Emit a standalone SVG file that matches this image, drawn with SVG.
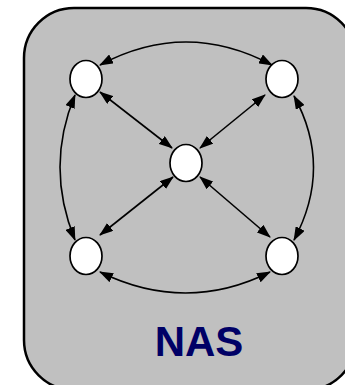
<svg xmlns="http://www.w3.org/2000/svg" width="345" height="385" viewBox="0 0 345 385">
<style>
.node{fill:#ffffff;stroke:#000000;stroke-width:1.7}
.conn{fill:none;stroke:#000000;stroke-width:1.6;marker-start:url(#ah);marker-end:url(#ah)}
.label{font-family:"Liberation Sans",Arial,sans-serif;font-weight:bold;font-size:42px;fill:#000066}
</style>
<defs>
<marker id="ah" viewBox="0 0 14 10" refX="13" refY="5" markerWidth="14" markerHeight="10" markerUnits="userSpaceOnUse" orient="auto-start-reverse">
<path d="M0,0 L14,5 L0,10 z" fill="#000000"/>
</marker>
</defs>
<rect id="frame" x="24" y="8" width="332" height="382" rx="50" ry="50" fill="#c0c0c0" stroke="#000000" stroke-width="2.5"/>
<g id="connectors">
<path class="conn" d="M100,65 Q186,19 272,65"/>
<path class="conn" d="M100,272 Q186,314 270,272"/>
<path class="conn" d="M75,95 Q45,167 75,240"/>
<path class="conn" d="M294,96 Q333,167 294,240"/>
<path class="conn" d="M100,92 L172,148"/>
<path class="conn" d="M265,95 L200,148"/>
<path class="conn" d="M100,235 L173,177"/>
<path class="conn" d="M270,237 L200,177"/>
</g>
<g id="n-tl"><ellipse class="node" cx="86" cy="79" rx="16" ry="18.5"/></g>
<g id="n-tr"><ellipse class="node" cx="282" cy="79" rx="16" ry="18.5"/></g>
<g id="n-c"><ellipse class="node" cx="186" cy="163" rx="16" ry="18.5"/></g>
<g id="n-bl"><ellipse class="node" cx="86" cy="256" rx="16" ry="18.5"/></g>
<g id="n-br"><ellipse class="node" cx="282" cy="256" rx="16" ry="18.5"/></g>
<g id="title"><text class="label" x="199" y="356" text-anchor="middle">NAS</text></g>
</svg>
